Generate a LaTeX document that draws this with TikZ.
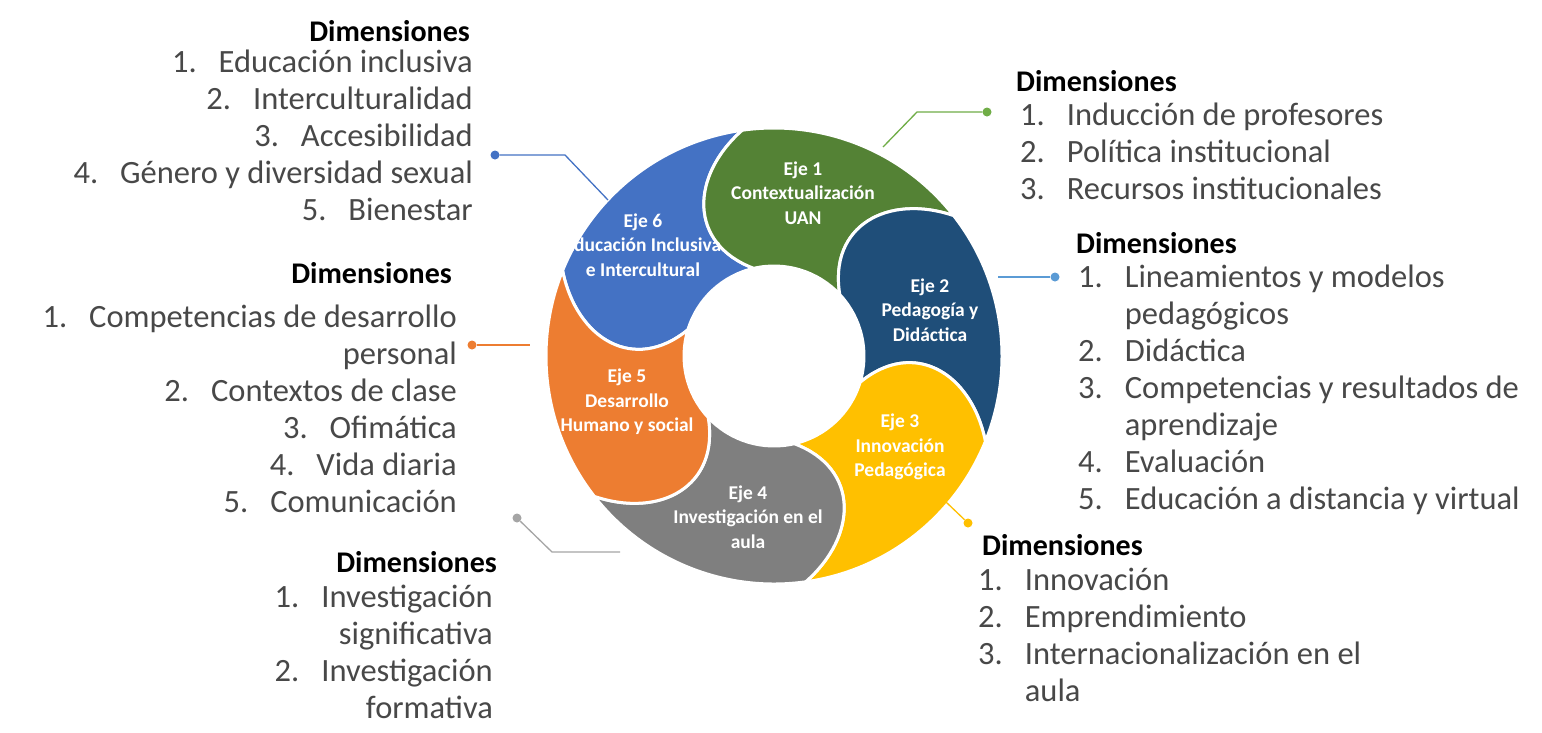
\documentclass[tikz,border=0pt]{standalone}
\usepackage{fontspec}
\setmainfont{Carlito}
\usepackage{tikz}

\definecolor{verde}{RGB}{84,130,53}
\definecolor{azulosc}{RGB}{31,78,121}
\definecolor{amarillo}{RGB}{255,192,0}
\definecolor{gris}{RGB}{127,127,127}
\definecolor{naranja}{RGB}{237,125,49}
\definecolor{azul}{RGB}{68,114,196}
\definecolor{verdeclaro}{RGB}{112,173,71}
\definecolor{celeste}{RGB}{91,155,213}
\definecolor{grisclaro}{RGB}{165,165,165}
\definecolor{texto}{RGB}{72,72,72}

\begin{document}
\begin{tikzpicture}[x=1pt,y=1pt]
      \tikzstyle{seg}=[draw=white,line width=3pt,line join=round]
      \tikzstyle{eje}=[text=white,align=center,inner sep=0pt,font=\bfseries\fontsize{19.5}{24.5}\selectfont]
      \tikzstyle{head}=[inner sep=0pt,font=\bfseries\fontsize{30}{36}\selectfont]
      \tikzstyle{items}=[inner sep=0pt,text=texto,font=\fontsize{32.5}{37}\selectfont]
      \tikzstyle{dot}=[circle,inner sep=0pt,minimum size=9pt]
      \tikzstyle{link}=[line width=1.3pt]

      \fill[white] (0,0) rectangle (1542,-732);

      \begin{scope}[shift={(774,-356)}]
        \foreach \a/\c in {163/azul,103/verde,43/azulosc,-17/amarillo,-77/gris,-137/naranja}
          \filldraw[seg,fill=\c] (\a:90) .. controls (\a+24.3:141) and (\a+12.1:198.4) .. (\a-5:228)
            arc[start angle=\a-5,end angle=\a-65,radius=228]
            .. controls (\a-47.9:198.4) and (\a-35.7:141) .. (\a-60:90)
            arc[start angle=\a-60,end angle=\a,radius=90] -- cycle;
      \end{scope}

      \node [eje] (e1) at (803,-193) {Eje 1\\Contextualización\\UAN};
      \node [eje] (e2) at (930,-310) {Eje 2\\Pedagogía y\\Didáctica};
      \node [eje] (e3) at (900,-447) {Eje 3\\Innovación\\Pedagógica};
      \node [eje] (e4) at (748,-517) {Eje 4\\Investigación en el\\aula};
      \node [eje] (e5) at (627,-402) {Eje 5\\Desarrollo\\Humano y social};
      \node [eje] (e6) at (643,-245) {Eje 6\\Educación Inclusiva\\e Intercultural};

      \node [head,anchor=base west] (h1) at (1016,-91) {Dimensiones};
      \node [items,anchor=base west] (l1) at ([shift={(4,-34)}]h1.base west)
        {\begin{tabular}[t]{@{}l@{\hspace{22pt}}l@{}}
          1. & Inducción de profesores\\
          2. & Política institucional\\
          3. & Recursos institucionales
        \end{tabular}};

      \node [head,anchor=base west] (h2) at (1076,-253) {Dimensiones};
      \node [items,anchor=base west] (l2) at ([shift={(2,-34)}]h2.base west)
        {\begin{tabular}[t]{@{}l@{\hspace{22pt}}l@{}}
          1. & Lineamientos y modelos\\
             & pedagógicos\\
          2. & Didáctica\\
          3. & Competencias y resultados de\\
             & aprendizaje\\
          4. & Evaluación\\
          5. & Educación a distancia y virtual
        \end{tabular}};

      \node [head,anchor=base west] (h3) at (982,-555) {Dimensiones};
      \node [items,anchor=base west] (l3) at ([shift={(-4,-35)}]h3.base west)
        {\begin{tabular}[t]{@{}l@{\hspace{22pt}}l@{}}
          1. & Innovación\\
          2. & Emprendimiento\\
          3. & Internacionalización en el\\
             & aula
        \end{tabular}};

      \node [head,anchor=base east] (h4) at (497,-572) {Dimensiones};
      \node [items,anchor=base east] (l4) at ([shift={(-4,-35)}]h4.base east)
        {\begin{tabular}[t]{@{}r@{}}
          1.\hspace{22pt}Investigación\\
          significativa\\
          2.\hspace{22pt}Investigación\\
          formativa
        \end{tabular}};

      \node [head,anchor=base east] (h5) at (452,-283) {Dimensiones};
      \node [items,anchor=base east] (l5) at ([shift={(5,-44)}]h5.base east)
        {\begin{tabular}[t]{@{}r@{}}
          1.\hspace{22pt}Competencias de desarrollo\\
          personal\\
          2.\hspace{22pt}Contextos de clase\\
          3.\hspace{22pt}Ofimática\\
          4.\hspace{22pt}Vida diaria\\
          5.\hspace{22pt}Comunicación
        \end{tabular}};

      \node [head,anchor=base east] (h6) at (470,-41) {Dimensiones};
      \node [items,anchor=base east] (l6) at ([shift={(3,-31)}]h6.base east)
        {\begin{tabular}[t]{@{}r@{}}
          1.\hspace{22pt}Educación inclusiva\\
          2.\hspace{22pt}Interculturalidad\\
          3.\hspace{22pt}Accesibilidad\\
          4.\hspace{22pt}Género y diversidad sexual\\
          5.\hspace{22pt}Bienestar
        \end{tabular}};

      \node [dot,fill=verdeclaro] (d1) at (987,-112) {};
      \node [dot,fill=celeste] (d2) at (1055,-277) {};
      \node [dot,fill=amarillo] (d3) at (968,-523) {};
      \node [dot,fill=grisclaro] (d4) at (517,-518) {};
      \node [dot,fill=naranja] (d5) at (472,-345) {};
      \node [dot,fill=azul] (d6) at (495,-155) {};
      \coordinate (k1) at (917,-112);
      \coordinate (t1) at (883,-147);
      \coordinate (t2) at (998,-277);
      \coordinate (t3) at (946,-502);
      \coordinate (k4) at (552,-552);
      \coordinate (t4) at (620,-552);
      \coordinate (t5) at (530,-345);
      \coordinate (k6) at (565,-155);
      \coordinate (t6) at (608,-200);

      \draw [link,verdeclaro] (d1) -- (k1) -- (t1);
      \draw [link,celeste] (d2) -- (t2);
      \draw [link,amarillo] (d3) -- (t3);
      \draw [link,grisclaro] (d4) -- (k4) -- (t4);
      \draw [link,naranja] (d5) -- (t5);
      \draw [link,azul] (d6) -- (k6) -- (t6);
    \end{tikzpicture}
\end{document}
